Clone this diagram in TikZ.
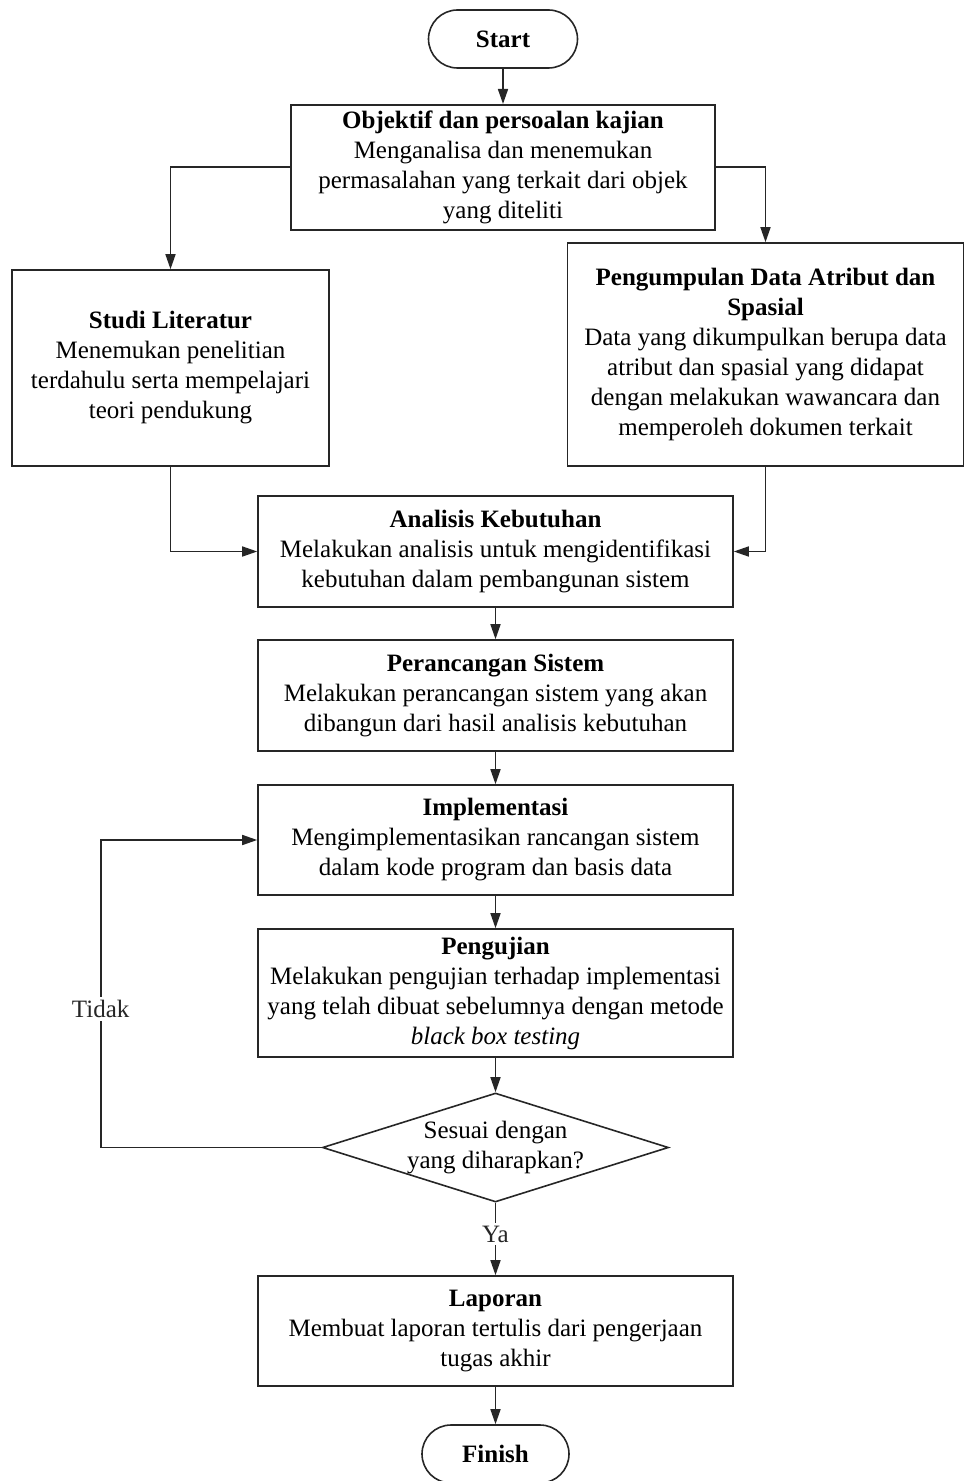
\documentclass[tikz,border=0pt]{standalone}
\usepackage{fontspec}
\setmainfont{Liberation Serif}
\usepackage{tikz}
\usetikzlibrary{shapes,arrows.meta,positioning,calc}

\begin{document}
\begin{tikzpicture}[
    node distance=16.2pt,
    font=\fontsize{12.5}{15}\selectfont,
    box/.style={rectangle, draw=black!85, line width=0.8pt, align=center,
                inner sep=0pt},
    wide/.style={box, minimum width=237.5pt},
    term/.style={rectangle, rounded corners=14.5pt, draw=black!85,
                 line width=0.8pt, minimum width=74.5pt, minimum height=29pt,
                 inner sep=0pt, font=\fontsize{12.5}{15}\selectfont\bfseries},
    decide/.style={diamond, draw=black!85, line width=0.8pt, aspect=3.2,
                   inner sep=0pt, minimum width=173pt, minimum height=54.5pt,
                   align=center},
    arrow/.style={-{Triangle[length=7.5pt,width=5pt]}, line width=0.8pt, black!85},
    lbl/.style={fill=white, inner sep=1.5pt},
  ]
    \useasboundingbox (0,0) rectangle (482pt,-740.5pt);

    \node[term] (start) at (251.5pt,-19.5pt) {Start};
    \node[box, minimum width=212pt, minimum height=62.5pt, below=17.6pt of start] (obj)
      {\textbf{Objektif dan persoalan kajian}\\Menganalisa dan menemukan\\
       permasalahan yang terkait dari objek\\yang diteliti};

    \node[box, minimum width=158.5pt, minimum height=98pt] (studi) at (85.25pt,-184pt)
      {\textbf{Studi Literatur}\\Menemukan penelitian\\terdahulu serta mempelajari\\
       teori pendukung};
    \node[box, minimum width=198pt, minimum height=111.5pt] (kumpul) at (382.75pt,-177.25pt)
      {\textbf{Pengumpulan Data Atribut dan}\\\textbf{Spasial}\\
       Data yang dikumpulkan berupa data\\atribut dan spasial yang didapat\\
       dengan melakukan wawancara dan\\memperoleh dokumen terkait};

    \node[wide, minimum height=55.5pt] (ana) at (247.75pt,-275.75pt)
      {\textbf{Analisis Kebutuhan}\\Melakukan analisis untuk mengidentifikasi\\
       kebutuhan dalam pembangunan sistem};
    \node[wide, minimum height=55.5pt, below=15.7pt of ana] (ran)
      {\textbf{Perancangan Sistem}\\Melakukan perancangan sistem yang akan\\
       dibangun dari hasil analisis kebutuhan};
    \node[wide, minimum height=55pt, below=of ran] (imp)
      {\textbf{Implementasi}\\Mengimplementasikan rancangan sistem\\
       dalam kode program dan basis data};
    \node[wide, minimum height=64pt, below=of imp] (uji)
      {\textbf{Pengujian}\\Melakukan pengujian terhadap implementasi\\
       yang telah dibuat sebelumnya dengan metode\\\textit{black box testing}};
    \node[decide, below=17.2pt of uji] (dec) {Sesuai dengan\\yang diharapkan?};
    \node[wide, minimum height=55pt, below=36.2pt of dec] (lap)
      {\textbf{Laporan}\\Membuat laporan tertulis dari pengerjaan\\tugas akhir};
    \node[term, minimum width=73.5pt, below=18.7pt of lap] (fin) {Finish};

    \coordinate (back) at ($(dec.west)+(-110.5pt,0)$);

    \draw[arrow] (start) -- (obj);
    \draw[arrow] (obj.west) -| (studi.north);
    \draw[arrow] (obj.east) -| (kumpul.north);
    \draw[arrow] (studi.south) |- (ana.west);
    \draw[arrow] (kumpul.south) |- (ana.east);
    \draw[arrow] (ana) -- (ran);
    \draw[arrow] (ran) -- (imp);
    \draw[arrow] (imp) -- (uji);
    \draw[arrow] (uji) -- (dec);
    \draw[arrow] (dec.west) -- (back) |- (imp.west)
      node[lbl, pos=0.225] (tidak) {Tidak};
    \draw[arrow] (dec.south) -- (lap.north) node[lbl, pos=0.43] (ya) {Ya};
    \draw[arrow] (lap) -- (fin);
  \end{tikzpicture}
\end{document}
